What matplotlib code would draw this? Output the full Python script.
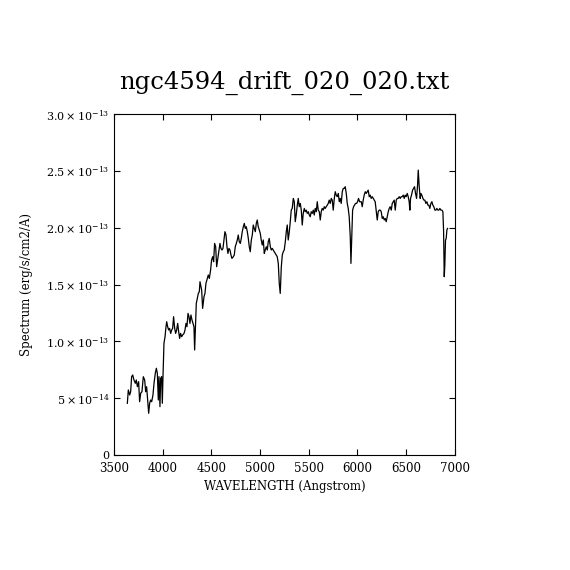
import numpy as np
import matplotlib
matplotlib.use("Agg")
import matplotlib.pyplot as plt

# --- Spectrum (wavelength in Angstrom, flux in 1e-13 erg/s/cm2/A) ---
wavelength = [
    3637, 3647, 3661, 3671, 3681, 3692, 3705, 3719, 3729, 3740, 3753, 3763, 3774, 3787,
    3801, 3815, 3825, 3835, 3846, 3856, 3866, 3876, 3887, 3900, 3911, 3924, 3935, 3945,
    3955, 3962, 3972, 3979, 3989, 3996, 4003, 4013, 4024, 4034, 4041, 4051, 4061, 4071,
    4082, 4092, 4102, 4112, 4123, 4133, 4143, 4154, 4164, 4174, 4184, 4195, 4205, 4219,
    4229, 4239, 4249, 4260, 4270, 4280, 4290, 4301, 4311, 4321, 4328, 4338, 4345, 4355,
    4366, 4376,
    4383, 4400, 4410, 4424, 4434, 4444, 4458, 4468, 4479, 4492, 4502, 4513, 4523, 4533,
    4544, 4554, 4564, 4578, 4588, 4598, 4609, 4619, 4629, 4639, 4650, 4660, 4670, 4680,
    4691, 4701, 4711, 4725, 4735, 4745, 4756, 4766, 4776, 4786, 4797, 4807, 4817, 4828,
    4838, 4848, 4858, 4869, 4879, 4889, 4899, 4910, 4920, 4930, 4940, 4951, 4961, 4971,
    4981, 4992, 5002, 5012, 5022, 5033, 5043, 5053, 5064, 5074, 5084, 5094, 5105, 5115,
    5125, 5135, 5146, 5156, 5166, 5176, 5187, 5197, 5207, 5218, 5228, 5238, 5248, 5259,
    5269, 5279, 5289, 5300, 5310, 5320, 5330, 5341, 5351, 5361, 5371, 5382, 5392, 5402,
    5413, 5423, 5433, 5443, 5454, 5464, 5474, 5484, 5495, 5505, 5515, 5525, 5536, 5546,
    5556, 5566, 5577, 5587, 5597, 5608, 5618, 5628, 5638, 5649, 5659, 5669, 5679, 5690,
    5700, 5710, 5720, 5731, 5741, 5751, 5762, 5772, 5782, 5792, 5803, 5813, 5823, 5833,
    5844, 5854, 5864, 5874, 5885, 5895, 5905, 5915, 5926, 5933, 5943, 5950, 5960, 5970,
    5980, 5991, 6001, 6011, 6022,
    6039, 6049, 6059, 6069, 6080, 6090, 6100, 6110, 6121, 6131, 6141, 6152, 6162, 6172,
    6182, 6193, 6203, 6213, 6223, 6234, 6244, 6254, 6264, 6275, 6285, 6295, 6306, 6316,
    6326, 6336, 6347, 6357, 6367, 6377, 6388, 6398, 6408, 6418, 6429, 6439, 6449, 6459,
    6470, 6480, 6490, 6500, 6511, 6521, 6531, 6538, 6545, 6555, 6566, 6576, 6586, 6596,
    6607, 6617, 6624, 6634, 6644, 6651, 6661, 6672, 6682, 6692, 6702, 6713, 6723, 6733,
    6743, 6754, 6764, 6774, 6784, 6795, 6805, 6815, 6826, 6836, 6846, 6856, 6867, 6877,
    6884, 6891, 6897, 6904, 6911, 6918, 6925,
]
flux_e13 = [
    0.455, 0.572, 0.528, 0.557, 0.689, 0.704, 0.660, 0.631, 0.660, 0.601, 0.645, 0.469, 0.543, 0.557,
    0.689, 0.660, 0.557, 0.601, 0.484, 0.367, 0.455, 0.484, 0.469, 0.528, 0.631, 0.719, 0.763, 0.719,
    0.484, 0.689, 0.425, 0.675, 0.689, 0.455, 0.689, 0.982, 1.041, 1.129, 1.173, 1.129, 1.100, 1.114,
    1.070, 1.100, 1.114, 1.217, 1.114, 1.070, 1.100, 1.158, 1.085, 1.026, 1.070, 1.041, 1.056, 1.070,
    1.100, 1.158, 1.129, 1.246, 1.217, 1.158, 1.232, 1.188, 1.158, 1.129, 0.924, 1.158, 1.334, 1.378,
    1.422, 1.437,
    1.525, 1.452, 1.290, 1.393, 1.422, 1.510, 1.554, 1.584, 1.554, 1.628, 1.716, 1.745, 1.701, 1.862,
    1.833, 1.657, 1.716, 1.804, 1.862, 1.818, 1.804, 1.818, 1.892, 1.965, 1.936, 1.833, 1.774, 1.818,
    1.804, 1.760, 1.730, 1.745, 1.760, 1.833, 1.862, 1.892, 1.936, 1.877, 1.862, 1.906, 1.965, 2.009,
    2.038, 1.994, 2.009, 1.965, 1.906, 1.833, 1.789, 1.892, 1.936, 2.024, 1.994, 1.965, 2.038, 2.068,
    2.009, 1.980, 1.950, 1.892, 1.848, 1.892, 1.774, 1.804, 1.833, 1.804, 1.877, 1.906, 1.833, 1.804,
    1.818, 1.804, 1.789, 1.774, 1.760, 1.745, 1.686, 1.510, 1.422, 1.657, 1.760, 1.789, 1.804, 1.877,
    1.965, 2.024, 1.892, 1.965, 2.053, 2.155, 2.170, 2.258, 2.229, 2.053, 2.112, 2.199, 2.258, 2.185,
    2.214, 2.155, 2.024, 2.126, 2.170, 2.141, 2.155, 2.126, 2.141, 2.112, 2.097, 2.141, 2.126, 2.155,
    2.112, 2.170, 2.141, 2.229, 2.155, 2.141, 2.068, 2.141, 2.170, 2.155, 2.185, 2.170, 2.185, 2.199,
    2.214, 2.243, 2.214, 2.258, 2.243, 2.155, 2.258, 2.317, 2.287, 2.273, 2.302, 2.229, 2.258, 2.214,
    2.317, 2.346, 2.346, 2.361, 2.302, 2.214, 2.170, 2.097, 1.921, 1.686, 1.965, 2.155, 2.185, 2.199,
    2.214, 2.214, 2.229, 2.258, 2.229,
    2.229, 2.185, 2.243, 2.287, 2.317, 2.302, 2.317, 2.331, 2.273, 2.287, 2.258, 2.273, 2.258, 2.243,
    2.229, 2.141, 2.068, 2.141, 2.155, 2.155, 2.141, 2.082, 2.097, 2.068, 2.082, 2.053, 2.097, 2.141,
    2.170, 2.185, 2.155, 2.214, 2.229, 2.243, 2.155, 2.243, 2.258, 2.258, 2.273, 2.258, 2.273, 2.273,
    2.287, 2.258, 2.287, 2.273, 2.302, 2.273, 2.229, 2.155, 2.258, 2.287, 2.331, 2.346, 2.361, 2.302,
    2.258, 2.375, 2.507, 2.361, 2.258, 2.302, 2.287, 2.258, 2.243, 2.243, 2.214, 2.229, 2.199, 2.199,
    2.170, 2.214, 2.229, 2.199, 2.185, 2.155, 2.155, 2.170, 2.155, 2.155, 2.170, 2.155, 2.155, 2.141,
    1.980, 1.569, 1.672, 1.891, 1.906, 1.980, 1.994,
]

x_ticks = [3500, 4000, 4500, 5000, 5500, 6000, 6500, 7000]
y_ticks = [0, 5e-14, 1.0e-13, 1.5e-13, 2.0e-13, 2.5e-13, 3.0e-13]
y_tick_labels = ["0", r"$5\times10^{-14}$", r"$1.0\times10^{-13}$", r"$1.5\times10^{-13}$",
                 r"$2.0\times10^{-13}$", r"$2.5\times10^{-13}$", r"$3.0\times10^{-13}$"]

plt.rcParams["font.family"] = "DejaVu Serif"
plt.rcParams["mathtext.fontset"] = "dejavuserif"

wl = np.array(wavelength)
flux = np.array(flux_e13) * 1e-13

fig = plt.figure(figsize=(5.7, 5.7), dpi=100)
ax = fig.add_axes([0.2, 0.2018, 0.598, 0.598])
ax.plot(wl, flux, color="black", lw=0.9)

ax.set_xlim(3500, 7000)
ax.set_ylim(0, 3e-13)
ax.set_xticks(x_ticks)
ax.set_xticklabels([str(t) for t in x_ticks], fontsize=8.5)
ax.set_yticks(y_ticks)
ax.set_yticklabels(y_tick_labels, fontsize=8)
ax.tick_params(direction="in", top=True, right=True, length=4.5, width=0.8, pad=3)
ax.tick_params(axis="x", pad=5)
for sp in ax.spines.values():
    sp.set_linewidth(0.8)

ax.set_title("ngc4594_drift_020_020.txt", fontsize=17.5, pad=18)
ax.set_xlabel("WAVELENGTH (Angstrom)", fontsize=8.5, labelpad=4)
ax.set_ylabel("Spectrum (erg/s/cm2/A)", fontsize=8.5, labelpad=10)

fig.savefig("out.png", dpi=100)
